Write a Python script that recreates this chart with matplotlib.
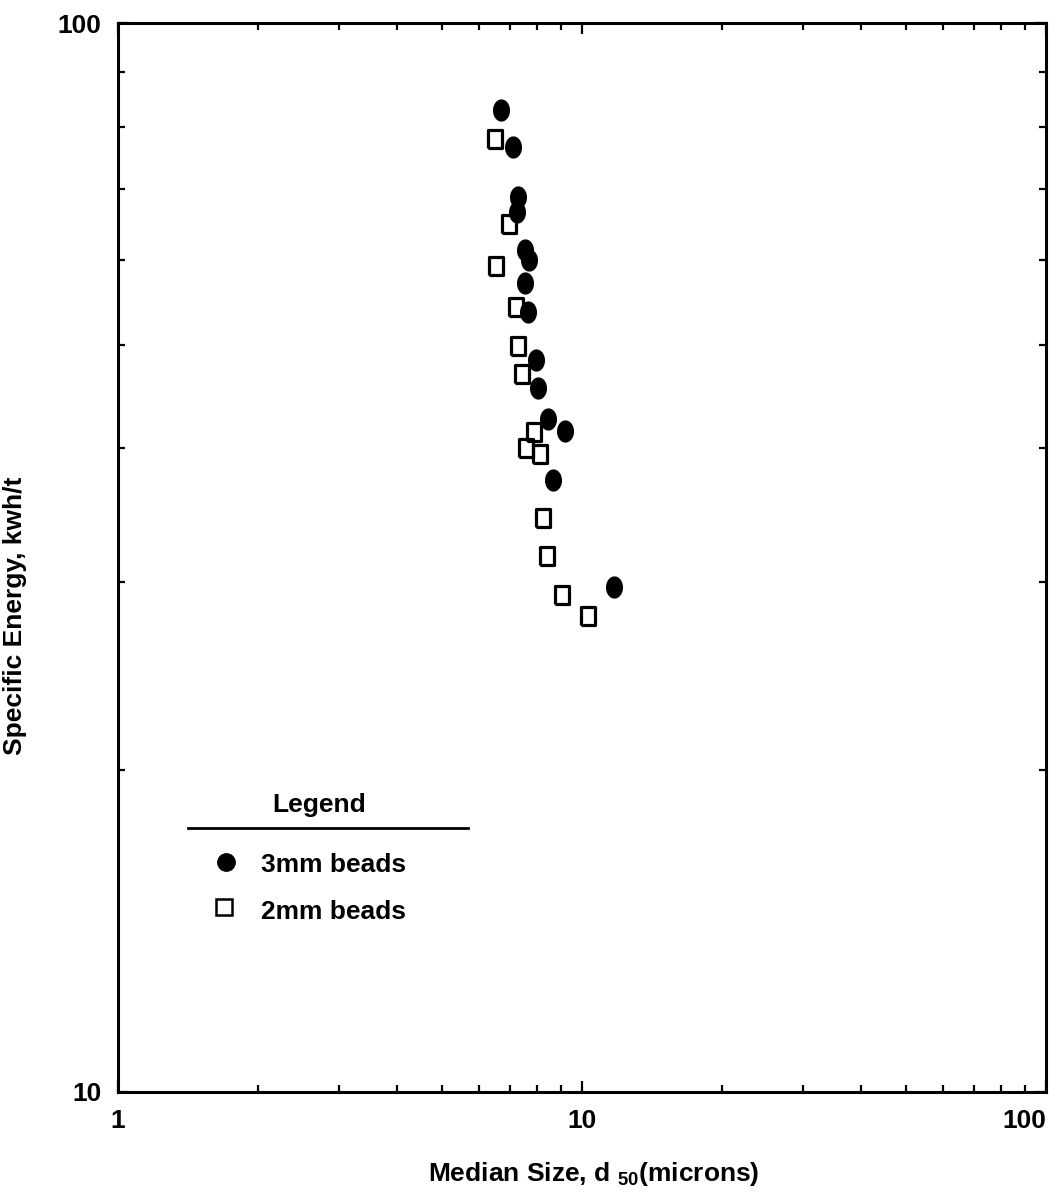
import numpy as np
import matplotlib
matplotlib.use('Agg')
import matplotlib.pyplot as plt
from matplotlib.ticker import LogLocator, NullFormatter, FixedLocator, FixedFormatter

plt.rcParams['font.family'] = 'Liberation Sans'
plt.rcParams['font.weight'] = 'bold'
plt.rcParams['mathtext.fontset'] = 'custom'
plt.rcParams['mathtext.rm'] = 'Liberation Sans:bold'
plt.rcParams['mathtext.bf'] = 'Liberation Sans:bold'

# 3mm beads
d50_3mm = [6.68, 7.10, 7.28, 7.24, 7.54, 7.69, 7.54, 7.65, 7.96, 8.04, 8.45, 9.19, 8.66, 11.72]
energy_3mm = [82.9, 76.6, 68.8, 66.6, 61.3, 60.0, 57.1, 53.7, 48.4, 45.6, 42.6, 41.5, 37.4, 29.7]

# 2mm beads
d50_2mm = [6.49, 6.96, 6.53, 7.21, 7.28, 7.42, 7.88, 7.57, 8.12, 8.24, 8.41, 9.05, 10.30]
energy_2mm = [77.9, 64.9, 59.3, 54.2, 49.9, 47.0, 41.4, 40.0, 39.5, 34.4, 31.7, 29.2, 27.9]

x_ticks = [1, 10, 100]
x_ticklabels = ['1', '10', '100']
y_ticks = [10, 100]
y_ticklabels = ['10', '100']

# slightly tall oval / box markers
t = np.linspace(0, 2 * np.pi, 60)
oval = np.column_stack([0.75 * np.cos(t), np.sin(t)])
box = [(-0.72, -1), (0.72, -1), (0.72, 1), (-0.72, 1), (-0.72, -1)]

fig = plt.figure(figsize=(10.61, 11.92), dpi=100)
ax = fig.add_axes([0.1112, 0.0839, 0.8746, 0.8968])

ax.plot(d50_3mm, energy_3mm, linestyle='none', marker=oval, markersize=15,
        color='black', zorder=3)
ax.plot(d50_2mm, energy_2mm, linestyle='none', marker=box, markersize=13.5,
        markerfacecolor='none', markeredgecolor='black', markeredgewidth=2.3, zorder=3)

ax.set_xscale('log')
ax.set_yscale('log')
ax.set_xlim(1, 100)
ax.set_ylim(10, 100)

ax.xaxis.set_major_locator(FixedLocator(x_ticks))
ax.xaxis.set_major_formatter(FixedFormatter(x_ticklabels))
ax.yaxis.set_major_locator(FixedLocator(y_ticks))
ax.yaxis.set_major_formatter(FixedFormatter(y_ticklabels))
ax.xaxis.set_minor_locator(LogLocator(base=10, subs=np.arange(2, 10)))
ax.yaxis.set_minor_locator(LogLocator(base=10, subs=np.arange(2, 10)))
ax.xaxis.set_minor_formatter(NullFormatter())
ax.yaxis.set_minor_formatter(NullFormatter())

ax.tick_params(which='both', direction='in', top=True, right=True, width=1.6)
ax.tick_params(which='major', length=8)
ax.tick_params(which='minor', length=5)
ax.tick_params(axis='x', which='major', pad=12, labelsize=19)
ax.tick_params(axis='y', which='major', pad=12, labelsize=19)
for sp in ax.spines.values():
    sp.set_linewidth(2.2)

# last x label sits inside the right edge
ax.xaxis.get_major_ticks()[-1].label1.set_horizontalalignment('right')

ax.set_xlabel(r'Median Size, d $_{\mathbf{50}}$(microns)', fontsize=19, fontweight='bold')
ax.set_ylabel('Specific Energy, kwh/t', fontsize=19, fontweight='bold')
ax.xaxis.set_label_coords(0.513, -0.064)
ax.yaxis.set_label_coords(-0.098, 0.445)

# legend block
ax.text(0.2166, 0.2685, 'Legend', transform=ax.transAxes, ha='center', va='center',
        fontsize=19, fontweight='bold')
ax.plot([0.0754, 0.3772], [0.247, 0.247], transform=ax.transAxes, color='black', lw=2.0)
ax.plot([0.1164], [0.2152], transform=ax.transAxes, marker='o', markersize=12.5,
        color='black', linestyle='none')
ax.plot([0.1142], [0.1731], transform=ax.transAxes, marker='s', markersize=11,
        markerfacecolor='none', markeredgecolor='black', markeredgewidth=1.8, linestyle='none')
ax.text(0.1541, 0.2123, '3mm beads', transform=ax.transAxes, ha='left', va='center',
        fontsize=19, fontweight='bold')
ax.text(0.1541, 0.1684, '2mm beads', transform=ax.transAxes, ha='left', va='center',
        fontsize=19, fontweight='bold')

fig.savefig('out.png', dpi=100)
